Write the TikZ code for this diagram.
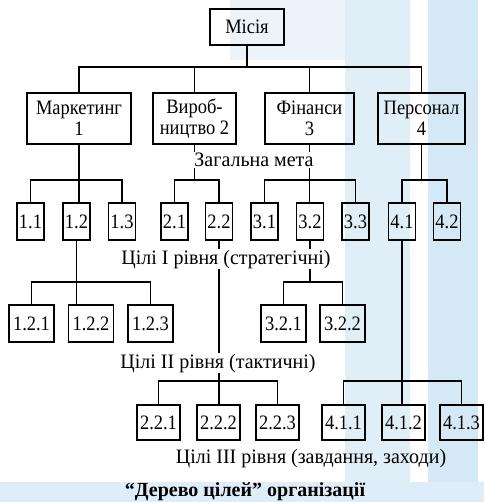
\documentclass[tikz,border=0pt]{standalone}
\usepackage{fontspec}
\setmainfont{Liberation Serif}[FakeStretch=0.9]
\newfontfamily\capfont{Liberation Serif}[FakeStretch=0.975]
\newfontfamily\titlefont{Liberation Serif}
\definecolor{bgpale}{RGB}{236,244,250}
\definecolor{bglight}{RGB}{224,238,248}
\definecolor{bgmid}{RGB}{212,232,245}
\definecolor{bgband}{RGB}{222,237,247}
\newcommand{\labelsize}{\fontsize{20.5}{21}\selectfont}
\tikzset{
  box/.style={draw, line width=1.6pt, inner sep=0pt, align=center,
              font=\labelsize},
  topbox/.style={box, minimum width=74pt, minimum height=36pt},
  dept/.style={box, minimum height=51pt},
  goal/.style={box, minimum width=27pt, minimum height=37pt},
  sub/.style={box, minimum width=45pt, minimum height=37pt},
  task/.style={box, minimum width=43pt, minimum height=35pt},
  link/.style={line width=1.4pt},
  level/.style={fill=white, inner sep=1pt, anchor=base, font=\capfont\labelsize},
}
\begin{document}
\begin{tikzpicture}[x=1pt,y=-1pt]
\useasboundingbox (0,0) rectangle (484,502);
% pale background stripes
\fill[bgpale] (230,0) rectangle (345,60);
\fill[bglight] (345,0) rectangle (410,482);
\fill[bgmid] (428,0) rectangle (478,482);
\fill[bgband] (0,482) rectangle (484,502);

% mission and departments
\node[topbox] (mis) at (247,27) {Місія};
\node[dept, minimum width=104pt] (mark) at (79,118.5) {Маркетинг\\1};
\node[dept, minimum width=83pt]  (viro) at (194.5,118.5) {Вироб-\\ництво 2};
\node[dept, minimum width=89pt]  (fin)  at (309.5,118.5) {Фінанси\\3};
\node[dept, minimum width=87pt]  (pers) at (421.5,118.5) {Персонал\\4};

% first-level goals
\node[goal] (g11) at (30.5,221.5) {1.1};
\node[goal] (g12) at (76.5,221.5) {1.2};
\node[goal] (g13) at (122,221.5) {1.3};
\node[goal] (g21) at (174.5,221.5) {2.1};
\node[goal] (g22) at (219,221.5) {2.2};
\node[goal] (g31) at (264.5,221.5) {3.1};
\node[goal] (g32) at (310,221.5) {3.2};
\node[goal] (g33) at (355.5,221.5) {3.3};
\node[goal] (g41) at (402,221.5) {4.1};
\node[goal] (g42) at (447,221.5) {4.2};

% second-level goals
\node[sub] (g121) at (31.5,323.5) {1.2.1};
\node[sub] (g122) at (91,323.5) {1.2.2};
\node[sub] (g123) at (150.5,323.5) {1.2.3};
\node[sub] (g321) at (283.5,323.5) {3.2.1};
\node[sub] (g322) at (342.5,323.5) {3.2.2};

% third-level goals
\node[task] (g221) at (158.5,422.5) {2.2.1};
\node[task] (g222) at (218.5,422.5) {2.2.2};
\node[task] (g223) at (277.5,422.5) {2.2.3};
\node[task] (g411) at (343.5,422.5) {4.1.1};
\node[task] (g412) at (403.5,422.5) {4.1.2};
\node[task] (g413) at (461.5,422.5) {4.1.3};

% bus levels
\coordinate (b0) at (0,67);
\coordinate (b1) at (0,180);
\coordinate (b2) at (0,282);
\coordinate (b3) at (0,381);

% mission -> departments
\draw[link] (mark.north) |- (pers.north |- b0) -- (pers.north);
\draw[link] (mis.south) -- (mis.south |- b0);
\draw[link] (viro.north) -- (viro.north |- b0);
\draw[link] (fin.north) -- (fin.north |- b0);

% departments -> first-level goals
\draw[link] (g11.north) |- (g13.north |- b1) -- (g13.north);
\draw[link] (mark.south) -- (mark.south |- g12.north);
\draw[link] (g21.north) |- (g22.north |- b1) -- (g22.north);
\draw[link] (viro.south) -- (viro.south |- b1);
\draw[link] (g31.north) |- (g33.north |- b1) -- (g33.north);
\draw[link] (fin.south) -- (fin.south |- g32.north);
\draw[link] (g41.north) |- (g42.north |- b1) -- (g42.north);
\draw[link] (pers.south) -- (pers.south |- b1);

% first-level -> second-level goals
\draw[link] (g121.north) |- (g123.north |- b2) -- (g123.north);
\draw[link] (g12.south) -- (g12.south |- g122.north);
\draw[link] (g321.north) |- (g322.north |- b2) -- (g322.north);
\draw[link] (g32.south) -- (g32.south |- b2);

% down to third-level goals
\draw[link] (g221.north) |- (g223.north |- b3) -- (g223.north);
\draw[link] (g22.south) -- (g22.south |- g222.north);
\draw[link] (g411.north) |- (g413.north |- b3) -- (g413.north);
\draw[link] (g41.south) -- (g41.south |- g412.north);

% level captions (placed on their baselines)
\node[level] (cap0) at (254,167) {Загальна мета};
\node[level] (cap1) at (226,264) {Цілі І рівня (стратегічні)};
\node[level] (cap2) at (218,368) {Цілі ІІ рівня (тактичні)};
\node[level, fill=none] (cap3) at (311,463) {Цілі ІІІ рівня (завдання, заходи)};

% title
\node[anchor=base, inner sep=0pt, font=\titlefont\fontsize{20}{21}\selectfont\bfseries] (title) at (245,496.5) {“Дерево цілей” організації};
\end{tikzpicture}
\end{document}
